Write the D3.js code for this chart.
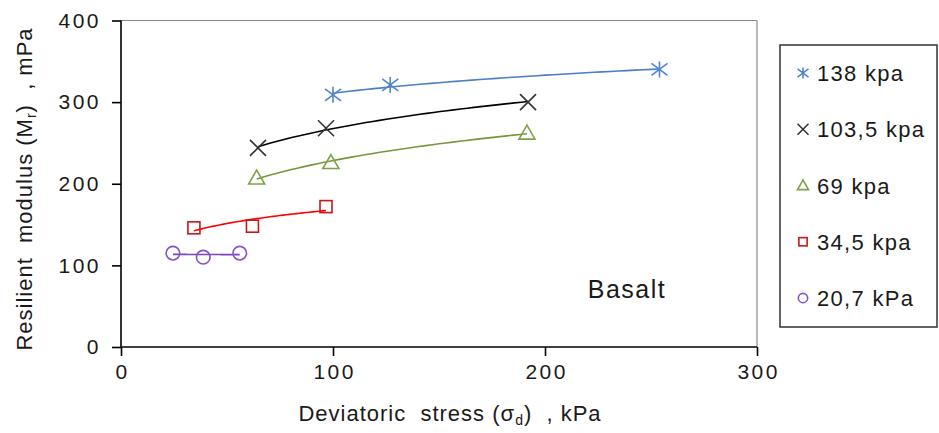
<!DOCTYPE html>
<html>
<head>
<meta charset="utf-8">
<script src="https://cdn.jsdelivr.net/npm/d3@7"></script>
<style>
  html, body { margin: 0; padding: 0; background: #fff; }
  svg { display: block; font-family: "Liberation Sans", Arial, sans-serif; }
</style>
</head>
<body>
<svg id="chart" width="939" height="433"></svg>
<script>
(function (d3) {
    'use strict';

    // values
    var seriesNames = ['138 kpa', '103,5 kpa', '69 kpa', '34,5 kpa', '20,7 kPa'];
    var stress138 = [100, 127, 254],   modulus138 = [309, 321, 340];
    var stress103 = [64.6, 96.7, 192], modulus103 = [244, 268, 300];
    var stress69 = [64, 99, 191.5],    modulus69 = [207, 226, 262];
    var stress34 = [34.4, 62, 96.7],   modulus34 = [146, 148, 172];
    var stress20 = [24.5, 38.8, 56],   modulus20 = [115, 110, 115];
    var xTicks = [0, 100, 200, 300];
    var yTicks = [0, 100, 200, 300, 400];

    var series = [
        {name: seriesNames[0], x: stress138, y: modulus138, line: '#4A7EC7', mark: '#4F86CF', shape: 'star'},
        {name: seriesNames[1], x: stress103, y: modulus103, line: '#000000', mark: '#333333', shape: 'cross'},
        {name: seriesNames[2], x: stress69,  y: modulus69,  line: '#76973A', mark: '#7EA24A', shape: 'triangle'},
        {name: seriesNames[3], x: stress34,  y: modulus34,  line: '#FF0000', mark: '#C4181C', shape: 'square'},
        {name: seriesNames[4], x: stress20,  y: modulus20,  line: '#7A45B5', mark: '#8553C2', shape: 'circle'}
    ];

    var svg = d3.select('#chart');
    var x = d3.scaleLinear().domain([0, 300]).range([121, 757]);
    var y = d3.scaleLinear().domain([0, 400]).range([347, 20.5]);

    // plot frame: grey top/right
    svg.append('line').attr('x1', x(0)).attr('x2', x(300)).attr('y1', y(400)).attr('y2', y(400))
        .attr('stroke', '#8a8a8a').attr('stroke-width', 1.2);
    svg.append('line').attr('x1', x(300)).attr('x2', x(300)).attr('y1', y(400)).attr('y2', y(0))
        .attr('stroke', '#8a8a8a').attr('stroke-width', 1.2);

    // axes
    var xAxis = d3.axisBottom(x).tickValues(xTicks).tickSize(9).tickPadding(8);
    var yAxis = d3.axisLeft(y).tickValues(yTicks).tickSize(9).tickPadding(11);

    var gx = svg.append('g').attr('transform', 'translate(0,' + y(0) + ')').call(xAxis);
    var gy = svg.append('g').attr('transform', 'translate(' + x(0) + ',0)').call(yAxis);
    [gx, gy].forEach(function (g) {
        g.select('.domain').attr('stroke', '#000').attr('stroke-width', 1.6);
        g.selectAll('.tick line').attr('stroke', '#000').attr('stroke-width', 1.6);
        g.selectAll('.tick text').attr('fill', '#1a1a1a').style('font-size', '21px')
            .style('letter-spacing', '2.5px')
            .style('font-family', '"Liberation Sans", Arial, sans-serif');
    });
    gx.selectAll('.tick text').attr('dx', 1.2);
    gx.select('.domain').attr('d', 'M' + x(0) + ',0H' + x(300));
    gy.select('.domain').attr('d', 'M0,' + y(0) + 'V' + y(400));

    // log trendlines (least squares y = a + b ln x)
    function logFit(xs, ys) {
        var n = xs.length,
            lx = xs.map(Math.log),
            mx = d3.mean(lx),
            my = d3.mean(ys),
            num = 0, den = 0;
        for (var i = 0; i < n; i++) {
            num += (lx[i] - mx) * (ys[i] - my);
            den += (lx[i] - mx) * (lx[i] - mx);
        }
        var b = num / den, a = my - b * mx;
        return function (v) { return a + b * Math.log(v); };
    }

    var line = d3.line().x(function (d) { return x(d[0]); }).y(function (d) { return y(d[1]); });

    series.forEach(function (s) {
        var f = logFit(s.x, s.y),
            lo = d3.min(s.x), hi = d3.max(s.x),
            pts = d3.range(0, 41).map(function (i) {
                var v = lo + (hi - lo) * i / 40;
                return [v, f(v)];
            });
        svg.append('path').attr('d', line(pts)).attr('fill', 'none')
            .attr('stroke', s.line).attr('stroke-width', 1.6);
    });

    // markers
    function drawMarker(g, shape, color, size) {
        var r = size;
        if (shape === 'star') {
            g.append('path').attr('d', 'M' + (-r) + ',' + (-r * 0.75) + 'L' + r + ',' + (r * 0.75) +
                'M' + (-r) + ',' + (r * 0.75) + 'L' + r + ',' + (-r * 0.75) + 'M0,' + (-r) + 'V' + r)
                .attr('stroke', color).attr('stroke-width', 1.6).attr('fill', 'none');
        } else if (shape === 'cross') {
            g.append('path').attr('d', 'M' + (-r) + ',' + (-r) + 'L' + r + ',' + r +
                'M' + (-r) + ',' + r + 'L' + r + ',' + (-r))
                .attr('stroke', color).attr('stroke-width', 1.6).attr('fill', 'none');
        } else if (shape === 'triangle') {
            g.append('path').attr('d', 'M0,' + (-r * 1.0) + 'L' + (r * 1.0) + ',' + (r * 0.75) +
                'L' + (-r * 1.0) + ',' + (r * 0.75) + 'Z')
                .attr('stroke', color).attr('stroke-width', 1.6).attr('fill', 'none');
        } else if (shape === 'square') {
            g.append('rect').attr('x', -r * 0.75).attr('y', -r * 0.75).attr('width', r * 1.5).attr('height', r * 1.5)
                .attr('stroke', color).attr('stroke-width', 1.6).attr('fill', 'none');
        } else {
            g.append('circle').attr('r', r * 0.85)
                .attr('stroke', color).attr('stroke-width', 1.6).attr('fill', 'none');
        }
    }

    series.forEach(function (s) {
        s.x.forEach(function (v, i) {
            var g = svg.append('g').attr('transform', 'translate(' + x(v) + ',' + y(s.y[i]) + ')');
            drawMarker(g, s.shape, s.mark, 8);
        });
    });

    // annotation
    svg.append('text').attr('x', 627).attr('y', 298).attr('text-anchor', 'middle')
        .style('font-size', '25px').style('letter-spacing', '1.5px').attr('fill', '#1a1a1a').text('Basalt');

    // axis titles
    var xt = svg.append('text').attr('x', 450).attr('y', 421).attr('text-anchor', 'middle')
        .style('font-size', '22px').style('letter-spacing', '1px').attr('fill', '#1a1a1a');
    xt.append('tspan').text('Deviatoric\u00a0\u00a0stress (\u03c3');
    xt.append('tspan').attr('dy', 4).style('font-size', '14px').text('d');
    xt.append('tspan').attr('dy', -4).text(')\u00a0 , kPa');

    var yt = svg.append('text').attr('transform', 'translate(32,189) rotate(-90)')
        .attr('text-anchor', 'middle').style('font-size', '22px').style('letter-spacing', '1px')
        .attr('fill', '#1a1a1a');
    yt.append('tspan').text('Resilient\u00a0 modulus (M');
    yt.append('tspan').attr('dy', 4).style('font-size', '14px').text('r');
    yt.append('tspan').attr('dy', -4).text(')\u00a0 , mPa');

    // legend
    svg.append('rect').attr('x', 780).attr('y', 45).attr('width', 157).attr('height', 282)
        .attr('fill', '#fff').attr('stroke', '#333').attr('stroke-width', 1.5);
    var legendY = d3.scalePoint().domain(seriesNames).range([73, 298]);
    series.forEach(function (s) {
        var ly = legendY(s.name);
        var g = svg.append('g').attr('transform', 'translate(803,' + ly + ')');
        drawMarker(g, s.shape, s.mark, 5.5);
        svg.append('text').attr('x', 817).attr('y', ly + 8).style('font-size', '22px')
            .style('letter-spacing', '1.3px').attr('fill', '#1a1a1a').text(s.name.replace(' ', '\u00a0'));
    });

})(d3);
</script>
</body>
</html>
